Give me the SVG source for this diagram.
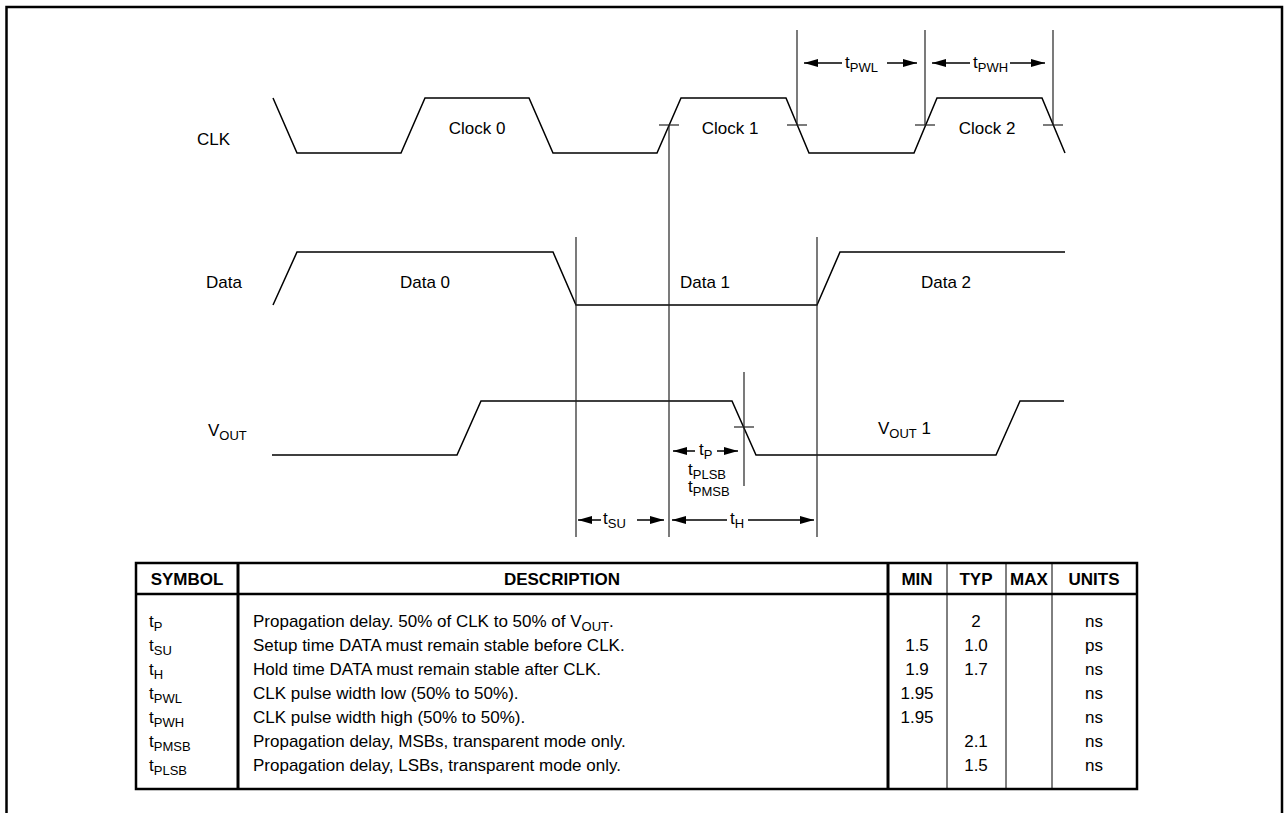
<svg xmlns="http://www.w3.org/2000/svg" width="1287" height="813" viewBox="0 0 1287 813">
<style>
text{font-family:"Liberation Sans",Arial,sans-serif;font-size:17px;fill:#000}
.sub{font-size:13px}
.b{font-weight:bold}
.w{fill:none;stroke:#000;stroke-width:1.5;stroke-linejoin:miter}
.g{fill:none;stroke:#222;stroke-width:1.2}
.a{fill:none;stroke:#000;stroke-width:1.5;marker-end:url(#ah)}
.t1{stroke:#000;stroke-width:1}
.t2{stroke:#000;stroke-width:2.5}
.m{text-anchor:middle}
</style>
<defs>
<marker id="ah" viewBox="0 0 14 8" refX="14" refY="4" markerWidth="14" markerHeight="8" markerUnits="userSpaceOnUse" orient="auto"><path d="M0,0 L14,4 L0,8 z" fill="#000"/></marker>
</defs>
<rect x="0" y="0" width="1287" height="813" fill="#fff"/>
<path d="M6.5,830 V7 H1282 V830" fill="none" stroke="#000" stroke-width="2.5"/>

<g id="clk">
<text x="197" y="145">CLK</text>
<polyline class="w" points="273,98 297,153 401,153 425,98 529,98 553,153 657,153 681,98 786,98 809,153 914,153 937,98 1042,98 1065,153"/>
<text class="m" x="477" y="134">Clock 0</text>
<text class="m" x="730" y="134">Clock 1</text>
<text class="m" x="987" y="134">Clock 2</text>
</g>

<g id="data">
<text x="206" y="288">Data</text>
<polyline class="w" points="273,305 297,252 553,252 576,305 817,305 840,252 1065,252"/>
<text class="m" x="425" y="288">Data 0</text>
<text class="m" x="705" y="288">Data 1</text>
<text class="m" x="946" y="288">Data 2</text>
</g>

<g id="vout">
<text x="208" y="436">V<tspan class="sub" dy="4">OUT</tspan></text>
<polyline class="w" points="272,455 457,455 481,401 732,401 756,455 996,455 1020,401 1064,401"/>
<text x="878" y="434">V<tspan class="sub" dy="4">OUT</tspan><tspan dy="-4"> 1</tspan></text>
</g>

<g id="connectors">
<line class="g" x1="669" y1="125" x2="669" y2="537"/>
<line class="g" x1="797" y1="30" x2="797" y2="125"/>
<line class="g" x1="925" y1="30" x2="925" y2="125"/>
<line class="g" x1="1053" y1="30" x2="1053" y2="125"/>
<line class="g" x1="576" y1="237" x2="576" y2="537"/>
<line class="g" x1="817" y1="237" x2="817" y2="537"/>
<line class="g" x1="744" y1="372" x2="744" y2="486"/>
<line class="g" x1="659" y1="125" x2="679" y2="125"/>
<line class="g" x1="787" y1="125" x2="807" y2="125"/>
<line class="g" x1="915" y1="125" x2="935" y2="125"/>
<line class="g" x1="1043" y1="125" x2="1063" y2="125"/>
<line class="g" x1="734" y1="427" x2="754" y2="427"/>
<line class="a" x1="842" y1="63" x2="804" y2="63"/>
<line class="a" x1="887" y1="63" x2="917" y2="63"/>
<line class="a" x1="970" y1="63" x2="932" y2="63"/>
<line class="a" x1="1010" y1="63" x2="1045" y2="63"/>
<line class="a" x1="695" y1="451" x2="673" y2="451"/>
<line class="a" x1="717" y1="451" x2="738" y2="451"/>
<line class="a" x1="601" y1="520" x2="578" y2="520"/>
<line class="a" x1="637" y1="520" x2="664" y2="520"/>
<line class="a" x1="727" y1="520" x2="672" y2="520"/>
<line class="a" x1="748" y1="520" x2="814" y2="520"/>
</g>

<g id="timing-labels">
<text x="845" y="68">t<tspan class="sub" dy="4">PWL</tspan></text>
<text x="973" y="68">t<tspan class="sub" dy="4">PWH</tspan></text>
<text x="699" y="455">t<tspan class="sub" dy="4">P</tspan></text>
<text x="688" y="475">t<tspan class="sub" dy="4">PLSB</tspan></text>
<text x="688" y="492">t<tspan class="sub" dy="4">PMSB</tspan></text>
<text x="603" y="524">t<tspan class="sub" dy="4">SU</tspan></text>
<text x="730" y="524">t<tspan class="sub" dy="4">H</tspan></text>
</g>

<g id="table">
<rect x="136" y="563" width="1001" height="226" fill="none" class="t2"/>
<line class="t2" x1="136" y1="594" x2="1137" y2="594"/>
<line class="t2" x1="238" y1="563" x2="238" y2="789" style="stroke-width:3"/>
<line class="t2" x1="888" y1="563" x2="888" y2="789" style="stroke-width:3"/>
<line class="t1" x1="947" y1="563" x2="947" y2="789"/>
<line class="t1" x1="1006" y1="563" x2="1006" y2="789"/>
<line class="t1" x1="1052" y1="563" x2="1052" y2="789"/>
<text class="b m" x="187" y="585">SYMBOL</text>
<text class="b m" x="562" y="585">DESCRIPTION</text>
<text class="b m" x="917" y="585">MIN</text>
<text class="b m" x="976" y="585">TYP</text>
<text class="b m" x="1029" y="585">MAX</text>
<text class="b m" x="1094" y="585">UNITS</text>

<text x="149" y="627">t<tspan class="sub" dy="4">P</tspan></text>
<text x="149" y="651">t<tspan class="sub" dy="4">SU</tspan></text>
<text x="149" y="675">t<tspan class="sub" dy="4">H</tspan></text>
<text x="149" y="699">t<tspan class="sub" dy="4">PWL</tspan></text>
<text x="149" y="723">t<tspan class="sub" dy="4">PWH</tspan></text>
<text x="149" y="747">t<tspan class="sub" dy="4">PMSB</tspan></text>
<text x="149" y="771">t<tspan class="sub" dy="4">PLSB</tspan></text>

<text x="253" y="627">Propagation delay. 50% of CLK to 50% of V<tspan class="sub" dy="4">OUT</tspan><tspan dy="-4">.</tspan></text>
<text x="253" y="651">Setup time DATA must remain stable before CLK.</text>
<text x="253" y="675">Hold time DATA must remain stable after CLK.</text>
<text x="253" y="699">CLK pulse width low (50% to 50%).</text>
<text x="253" y="723">CLK pulse width high (50% to 50%).</text>
<text x="253" y="747">Propagation delay, MSBs, transparent mode only.</text>
<text x="253" y="771">Propagation delay, LSBs, transparent mode only.</text>

<text class="m" x="917" y="651">1.5</text>
<text class="m" x="917" y="675">1.9</text>
<text class="m" x="917" y="699">1.95</text>
<text class="m" x="917" y="723">1.95</text>

<text class="m" x="976" y="627">2</text>
<text class="m" x="976" y="651">1.0</text>
<text class="m" x="976" y="675">1.7</text>
<text class="m" x="976" y="747">2.1</text>
<text class="m" x="976" y="771">1.5</text>

<text class="m" x="1094" y="627">ns</text>
<text class="m" x="1094" y="651">ps</text>
<text class="m" x="1094" y="675">ns</text>
<text class="m" x="1094" y="699">ns</text>
<text class="m" x="1094" y="723">ns</text>
<text class="m" x="1094" y="747">ns</text>
<text class="m" x="1094" y="771">ns</text>
</g>
</svg>
